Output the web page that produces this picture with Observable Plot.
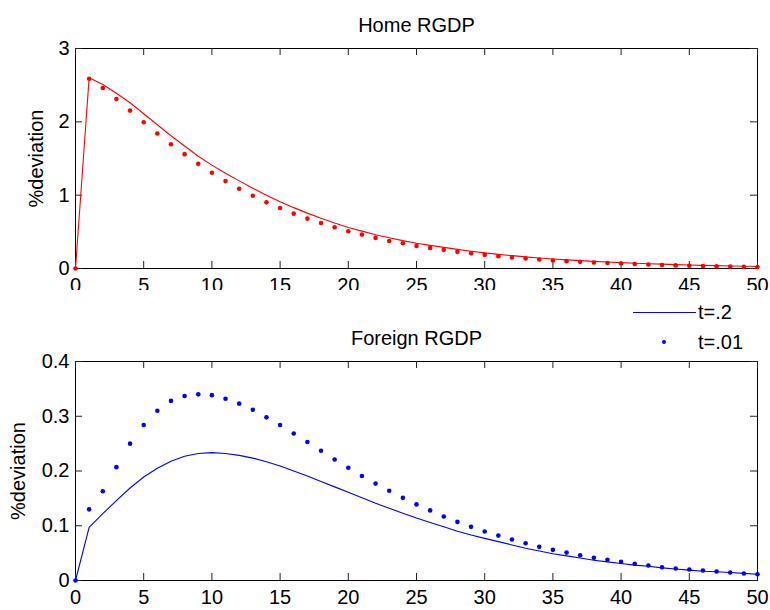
<!DOCTYPE html>
<html>
<head>
<meta charset="utf-8">
<script src="https://cdn.jsdelivr.net/npm/d3@7"></script>
<script src="https://cdn.jsdelivr.net/npm/@observablehq/plot@0.6"></script>
<style>
  html, body { margin: 0; padding: 0; background: #fff; }
  #wrap { position: relative; width: 770px; height: 610px; overflow: hidden; font-family: "Liberation Sans", Arial, sans-serif; }
  #top, #bottom { position: absolute; left: 0; }
  #top { top: 0; }
  #bottom { top: 290px; }
  #legend { position: absolute; left: 620px; top: 296px; width: 150px; height: 65px; background: #fff; }
  .lg-line { position: absolute; left: 13px; top: 16px; width: 63px; height: 0; border-top: 1.2px solid #0000ff; }
  .lg-dot { position: absolute; left: 42px; top: 44px; width: 4px; height: 4px; border-radius: 50%; background: #0000ff; }
  .lg-text { position: absolute; left: 78px; font-size: 20px; line-height: 20px; color: #000; }
</style>
</head>
<body>
<div id="wrap">
  <div id="top"></div>
  <div id="bottom"></div>
  <div id="legend">
    <div class="lg-line"></div>
    <div class="lg-text" id="lg1" style="top:6px"></div>
    <div class="lg-dot"></div>
    <div class="lg-text" id="lg2" style="top:36px"></div>
  </div>
</div>
<script>
// ---- data ----
const periods = d3.range(0, 51);
const xTicks = [0, 5, 10, 15, 20, 25, 30, 35, 40, 45, 50];
const homeYTicks = [0, 1, 2, 3];
const foreignYTicks = [0, 0.1, 0.2, 0.3, 0.4];
const seriesLabels = ["t=.2", "t=.01"];
const panelTitles = ["Home RGDP", "Foreign RGDP"];
const yLabel = "%deviation";

// Home RGDP, t=.2 (solid line)
const homeT2 = [0, 2.60, 2.51, 2.39, 2.26, 2.11, 1.96, 1.81, 1.67, 1.53,
  1.41, 1.30, 1.195, 1.095, 1.00, 0.91, 0.83, 0.755, 0.685, 0.62,
  0.56, 0.51, 0.46, 0.42, 0.38, 0.345, 0.315, 0.288, 0.261, 0.236,
  0.213, 0.193, 0.175, 0.159, 0.144, 0.13, 0.118, 0.107, 0.097, 0.088,
  0.08, 0.072, 0.065, 0.059, 0.053, 0.048, 0.043, 0.039, 0.035, 0.031, 0.028];
// Home RGDP, t=.01 (dots)
const homeT01 = [0, 2.588, 2.461, 2.311, 2.153, 1.994, 1.840, 1.695, 1.559, 1.427,
  1.305, 1.192, 1.088, 0.992, 0.902, 0.825, 0.748, 0.680, 0.621, 0.562,
  0.508, 0.462, 0.417, 0.376, 0.344, 0.308, 0.281, 0.254, 0.227, 0.208,
  0.186, 0.168, 0.150, 0.136, 0.122, 0.109, 0.100, 0.091, 0.082, 0.075,
  0.068, 0.061, 0.054, 0.047, 0.042, 0.037, 0.033, 0.029, 0.026, 0.023, 0.019];
// Foreign RGDP, t=.2 (solid line)
const foreignT2 = [0, 0.097, 0.122, 0.146, 0.169, 0.189, 0.205, 0.218, 0.227, 0.232,
  0.2335, 0.232, 0.2285, 0.2235, 0.217, 0.209, 0.200, 0.191, 0.181, 0.171,
  0.161, 0.151, 0.141, 0.132, 0.123, 0.114, 0.106, 0.098, 0.090, 0.083,
  0.077, 0.071, 0.065, 0.059, 0.054, 0.049, 0.045, 0.041, 0.037, 0.034,
  0.031, 0.028, 0.026, 0.023, 0.021, 0.019, 0.017, 0.016, 0.0146, 0.013, 0.0115];
// Foreign RGDP, t=.01 (dots)
const foreignT01 = [0, 0.130, 0.163, 0.207, 0.250, 0.284, 0.310, 0.328, 0.337, 0.340,
  0.3385, 0.332, 0.323, 0.312, 0.298, 0.284, 0.2685, 0.253, 0.237, 0.221,
  0.206, 0.191, 0.177, 0.164, 0.151, 0.139, 0.128, 0.117, 0.107, 0.098,
  0.0895, 0.082, 0.075, 0.068, 0.0615, 0.056, 0.051, 0.046, 0.0414, 0.0378,
  0.034, 0.0305, 0.0274, 0.0243, 0.022, 0.020, 0.0183, 0.0164, 0.0146, 0.0128, 0.0115];

// ---- drawing ----
const FONT = 20;
const TICKLEN = 7;

function panel({height, marginTop, marginBottom, yDomain, yTicks, lineVals, dotVals, color, title, labelDx}) {
  const marginLeft = 75, marginRight = 13, width = 770;
  const innerW = width - marginLeft - marginRight;
  const innerH = height - marginTop - marginBottom;
  const lineData = periods.map((p, i) => ({x: p, y: lineVals[i]}));
  const dotData = periods.map((p, i) => ({x: p, y: dotVals[i]}));
  return Plot.plot({
    width, height, marginLeft, marginRight, marginTop, marginBottom,
    style: {fontFamily: "Liberation Sans, Arial, sans-serif", fontSize: FONT + "px", background: "white", color: "black", overflow: "visible"},
    x: {domain: [0, 50]},
    y: {domain: yDomain},
    marks: [
      Plot.frame({stroke: "black", strokeWidth: 1}),
      Plot.tickX(xTicks, {x: d => d, insetTop: innerH - TICKLEN, stroke: "#222"}),
      Plot.tickX(xTicks, {x: d => d, insetBottom: innerH - TICKLEN, stroke: "#222"}),
      Plot.tickY(yTicks, {y: d => d, insetRight: innerW - TICKLEN, stroke: "#222"}),
      Plot.tickY(yTicks, {y: d => d, insetLeft: innerW - TICKLEN, stroke: "#222"}),
      Plot.axisX({ticks: xTicks, tickSize: 0, tickPadding: 9, fontSize: FONT, label: null, tickFormat: d => String(d)}),
      Plot.axisY({ticks: yTicks, tickSize: 0, tickPadding: 6, fontSize: FONT, label: null, tickFormat: d => String(d)}),
      Plot.line(lineData, {x: "x", y: "y", stroke: color, strokeWidth: 1.1}),
      Plot.dot(dotData, {x: "x", y: "y", r: 2.3, fill: color, stroke: null}),
      Plot.text([title], {frameAnchor: "top", dy: -17, lineAnchor: "bottom", fontSize: FONT, fill: "black"}),
      Plot.text([yLabel], {frameAnchor: "left", dx: labelDx, rotate: -90, fontSize: FONT, fill: "black", textAnchor: "middle", lineAnchor: "middle"})
    ]
  });
}

document.getElementById("top").append(panel({
  height: 290, marginTop: 48, marginBottom: 22,
  yDomain: [0, 3], yTicks: homeYTicks,
  lineVals: homeT2, dotVals: homeT01, color: "#ff0000",
  title: panelTitles[0], labelDx: -39
}));

document.getElementById("bottom").append(panel({
  height: 320, marginTop: 71, marginBottom: 30,
  yDomain: [0, 0.4], yTicks: foreignYTicks,
  lineVals: foreignT2, dotVals: foreignT01, color: "#0000ff",
  title: panelTitles[1], labelDx: -57
}));

document.getElementById("lg1").textContent = seriesLabels[0];
document.getElementById("lg2").textContent = seriesLabels[1];
</script>
</body>
</html>
